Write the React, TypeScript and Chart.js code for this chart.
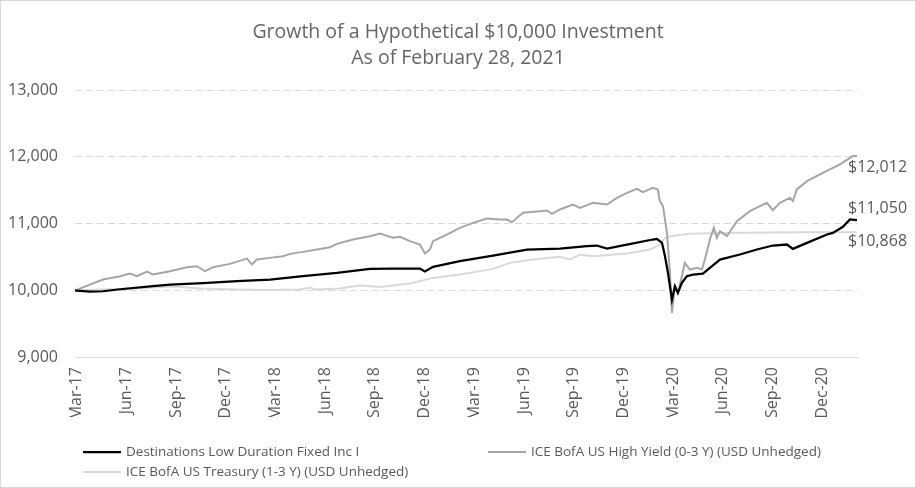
import React, { useEffect, useRef } from "react";
import { Chart, registerables } from "chart.js";

Chart.register(...registerables);

// ---- Data (x = months since 28-Feb-2017, y = growth of $10,000) ----
const TITLE_LINES = ["Growth of a Hypothetical $10,000 Investment", "As of February 28, 2021"];

const X_LABELS = [
  "Mar-17", "Jun-17", "Sep-17", "Dec-17", "Mar-18", "Jun-18", "Sep-18", "Dec-18",
  "Mar-19", "Jun-19", "Sep-19", "Dec-19", "Mar-20", "Jun-20", "Sep-20", "Dec-20",
];
const X_LABEL_MONTHS = [0.1, 3.1, 6.1, 9.1, 12.1, 15.1, 18.1, 21.1, 24.1, 27.1, 30.1, 33.1, 36.1, 39.1, 42.1, 45.1];
const Y_TICKS = [9000, 10000, 11000, 12000, 13000];

const SERIES_NAMES = [
  "Destinations Low Duration Fixed Inc I",
  "ICE BofA US High Yield (0-3 Y) (USD Unhedged)",
  "ICE BofA US Treasury (1-3 Y) (USD Unhedged)",
];
const END_LABELS = ["$11,050", "$12,012", "$10,868"];

const DEST_X = [0, 0.12, 0.91, 1.69, 2.72, 4.71, 5.73, 7.72, 9.78, 11.77, 13.76, 15.81, 17.8, 19.19, 20.82, 21.12, 21.61, 23.23, 25.23, 27.28, 29.27, 30.9, 31.5, 32.11, 33.31, 34.88, 35.12, 35.3, 35.43, 35.61, 35.79, 36.03, 36.21, 36.39, 36.63, 36.93, 37.3, 37.9, 38.32, 38.93, 40.13, 41.16, 42.12, 42.97, 43.33, 44.18, 45.39, 45.74, 46.35, 46.77, 47.2];
const DEST_Y = [10000, 9995, 9980, 9985, 10015, 10060, 10085, 10105, 10135, 10160, 10210, 10260, 10320, 10325, 10325, 10280, 10350, 10435, 10520, 10610, 10625, 10660, 10670, 10625, 10685, 10760, 10770, 10735, 10710, 10510, 10260, 9860, 10060, 9960, 10110, 10210, 10235, 10250, 10335, 10460, 10535, 10610, 10670, 10685, 10620, 10710, 10835, 10860, 10950, 11060, 11050];

const HY_X = [0, 0.12, 1.69, 2.72, 3.32, 3.74, 4.35, 4.71, 5.73, 6.76, 7.36, 7.85, 8.33, 9.35, 10.38, 10.68, 10.98, 11.77, 12.55, 12.98, 13.76, 14.6, 15.39, 15.81, 16.78, 17.8, 18.41, 19.19, 19.61, 20.22, 20.82, 21.12, 21.42, 21.61, 22.45, 23.23, 24.02, 24.86, 25.65, 26.07, 26.37, 27.04, 28.06, 28.49, 28.79, 29.27, 30.05, 30.48, 31.26, 32.11, 32.71, 33.31, 33.92, 34.28, 34.88, 35.18, 35.3, 35.49, 35.73, 35.91, 36.03, 36.21, 36.39, 36.63, 36.81, 37.11, 37.54, 37.84, 38.02, 38.32, 38.56, 38.74, 38.93, 39.35, 39.95, 40.74, 41.34, 41.76, 42.12, 42.55, 43.15, 43.33, 43.57, 44.18, 45.14, 46.17, 46.95, 47.2];
const HY_Y = [10000, 10010, 10160, 10210, 10250, 10210, 10280, 10235, 10285, 10345, 10360, 10285, 10345, 10395, 10475, 10385, 10460, 10485, 10510, 10545, 10575, 10610, 10645, 10695, 10760, 10810, 10850, 10785, 10800, 10735, 10685, 10550, 10610, 10735, 10835, 10935, 11010, 11075, 11060, 11060, 11020, 11160, 11185, 11195, 11145, 11210, 11285, 11235, 11310, 11285, 11385, 11460, 11520, 11470, 11535, 11510, 11335, 11260, 10860, 10260, 9660, 10060, 9960, 10210, 10410, 10310, 10335, 10310, 10460, 10760, 10935, 10785, 10885, 10810, 11035, 11185, 11260, 11310, 11200, 11310, 11385, 11335, 11510, 11635, 11760, 11885, 12010, 12012];

const TSY_X = [0, 1.69, 3.74, 5.13, 6.04, 7.54, 9.78, 11.77, 13.58, 14.18, 14.48, 15.99, 17.2, 18.41, 20.22, 21.61, 23.23, 25.23, 26.25, 27.64, 29.27, 29.87, 30.48, 31.26, 33.31, 34.7, 35.3, 35.61, 35.91, 37.11, 40.13, 43.75, 47.2];
const TSY_Y = [10000, 10010, 10025, 10050, 10055, 10025, 10010, 10005, 10010, 10040, 10010, 10025, 10070, 10050, 10100, 10185, 10235, 10320, 10410, 10460, 10500, 10460, 10535, 10510, 10550, 10610, 10685, 10785, 10810, 10845, 10860, 10870, 10868];

const COLORS = ["#000000", "#a6a6a6", "#d9d9d9"];
const TEXT_COLOR = "#595959";
const FONT = "'Open Sans', 'Noto Sans', sans-serif";

const toPoints = (xs: number[], ys: number[]) => xs.map((x, i) => ({ x, y: ys[i] }));

const decorPlugin = {
  id: "decor",
  afterDraw(chart: any) {
    const { ctx, chartArea, scales } = chart;
    const W = chart.width;
    const H = chart.height;
    ctx.save();
    // outer border
    ctx.strokeStyle = "#d9d9d9";
    ctx.lineWidth = 1;
    ctx.strokeRect(0.5, 0.5, W - 1, H - 1);

    // title
    ctx.fillStyle = "#666666";
    ctx.textAlign = "center";
    ctx.textBaseline = "middle";
    ctx.font = `19.5px ${FONT}`;
    ctx.fillText(TITLE_LINES[0], W / 2, 32);
    ctx.fillText(TITLE_LINES[1], W / 2, 58);

    // end labels
    ctx.fillStyle = TEXT_COLOR;
    ctx.font = `16px ${FONT}`;
    ctx.textAlign = "left";
    const offsets = [-12, 11, 9];
    chart.data.datasets.forEach((ds: any, i: number) => {
      const last = ds.data[ds.data.length - 1];
      const y = scales.y.getPixelForValue(last.y) + offsets[i];
      ctx.fillText(END_LABELS[i], chartArea.right - 9, y);
    });

    // legend
    ctx.font = `13.5px ${FONT}`;
    const pos = [
      { x: 83, y: 452 },
      { x: 488, y: 452 },
      { x: 83, y: 472 },
    ];
    chart.data.datasets.forEach((ds: any, i: number) => {
      const p = pos[i];
      ctx.strokeStyle = ds.borderColor;
      ctx.lineWidth = ds.borderWidth;
      ctx.beginPath();
      ctx.moveTo(p.x, p.y);
      ctx.lineTo(p.x + 38, p.y);
      ctx.stroke();
      ctx.fillStyle = TEXT_COLOR;
      ctx.fillText(ds.label, p.x + 43, p.y);
    });
    ctx.restore();
  },
};

export default function App() {
  const ref = useRef<HTMLCanvasElement>(null);
  useEffect(() => {
    const chart = new Chart(ref.current!, {
      type: "line",
      data: {
        datasets: [
          { label: SERIES_NAMES[0], data: toPoints(DEST_X, DEST_Y), borderColor: COLORS[0], borderWidth: 2.25 },
          { label: SERIES_NAMES[1], data: toPoints(HY_X, HY_Y), borderColor: COLORS[1], borderWidth: 2 },
          { label: SERIES_NAMES[2], data: toPoints(TSY_X, TSY_Y), borderColor: COLORS[2], borderWidth: 2 },
        ],
      },
      options: {
        animation: false,
        responsive: false,
        maintainAspectRatio: false,
        parsing: false,
        elements: { point: { radius: 0 }, line: { tension: 0 } },
        layout: { padding: { top: 90, right: 59, bottom: 71, left: 0 } },
        plugins: { legend: { display: false }, title: { display: false }, tooltip: { enabled: false } },
        scales: {
          x: {
            type: "linear",
            min: 0,
            max: 47.2,
            afterFit: (s: any) => { s.height = 60; },
            afterBuildTicks: (s: any) => { s.ticks = X_LABEL_MONTHS.map((v) => ({ value: v })); },
            grid: { display: false, drawTicks: false },
            border: { display: true, color: "#d9d9d9", width: 1 },
            ticks: {
              autoSkip: false,
              minRotation: 90,
              maxRotation: 90,
              padding: 10,
              color: TEXT_COLOR,
              font: { family: FONT, size: 16 },
              callback: (_v: any, i: number) => X_LABELS[i],
            },
          },
          y: {
            min: 9000,
            max: 13000,
            afterFit: (s: any) => { s.width = 75; },
            afterBuildTicks: (s: any) => { s.ticks = Y_TICKS.map((v) => ({ value: v })); },
            grid: { color: "#d9d9d9", lineWidth: 1, drawTicks: false },
            border: { display: false, dash: [7, 4] },
            ticks: {
              padding: 17,
              color: TEXT_COLOR,
              font: { family: FONT, size: 16 },
              callback: (v: any) => Number(v).toLocaleString("en-US"),
            },
          },
        },
      },
      plugins: [decorPlugin],
    });
    return () => chart.destroy();
  }, []);
  return (
    <div style={{ position: "fixed", left: 0, top: 0, width: 916, height: 488, background: "#fff" }}>
      <canvas ref={ref} width={916} height={488} style={{ width: 916, height: 488 }} />
    </div>
  );
}
